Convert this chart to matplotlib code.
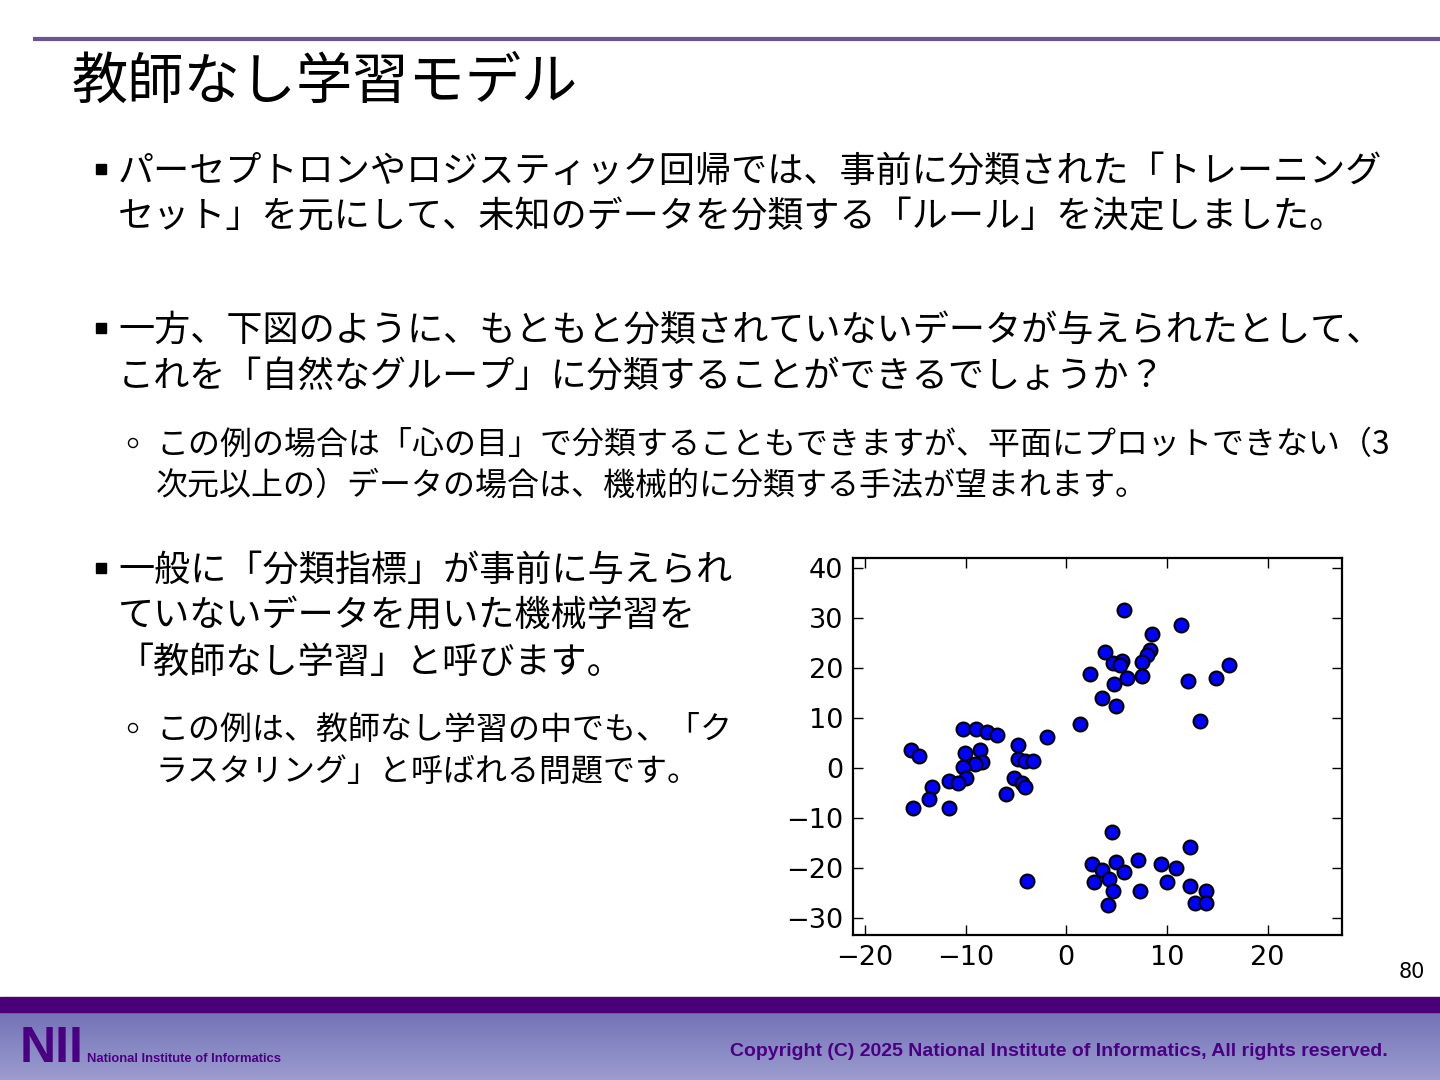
import numpy as np
import matplotlib
matplotlib.use("Agg")
import matplotlib.pyplot as plt
from matplotlib.patches import Rectangle, Circle
from matplotlib.colors import LinearSegmentedColormap

# scatter data (three loose groups)
x_upper = [5.7, 11.4, 8.5, 8.3, 8.0, 7.5, 3.8, 4.6, 5.5, 5.3, 2.4, 6.0, 7.5, 4.7, 3.5, 4.9,
           1.4, -1.9, 12.1, 14.9, 16.2, 13.3]
y_upper = [31.7, 28.7, 26.9, 23.7, 22.7, 21.3, 23.3, 21.0, 21.5, 20.6, 18.9, 18.1, 18.5, 16.8,
           14.0, 12.4, 8.8, 6.3, 17.5, 18.1, 20.6, 9.5]
x_left = [-10.3, -9.0, -7.9, -6.9, -15.4, -14.6, -10.1, -8.6, -8.4, -9.1, -10.3, -4.8, -4.8,
          -4.1, -3.3, -10.0, -11.7, -10.8, -13.3, -13.6, -15.2, -11.7, -5.2, -4.4, -4.1, -6.0]
y_left = [7.8, 7.8, 7.3, 6.7, 3.7, 2.5, 3.0, 3.7, 1.3, 0.8, 0.3, 4.7, 1.8, 1.5, 1.5, -2.0,
          -2.5, -3.0, -3.7, -6.1, -7.9, -7.9, -1.9, -2.9, -3.8, -5.1]
x_lower = [-3.9, 4.5, 12.3, 2.6, 3.5, 4.9, 5.7, 7.1, 9.4, 10.9, 2.8, 4.2, 4.6, 7.3, 10.0,
           12.3, 13.9, 4.1, 12.8, 13.9]
y_lower = [-22.5, -12.7, -15.8, -19.2, -20.3, -18.8, -20.7, -18.3, -19.2, -20.0, -22.7, -22.1,
           -24.5, -24.5, -22.7, -23.5, -24.5, -27.3, -27.0, -27.0]
xticks = [-20, -10, 0, 10, 20]
yticks = [-30, -20, -10, 0, 10, 20, 30, 40]

title = "教師なし学習モデル"
bullets = [
    (["パーセプトロンやロジスティック回帰では、事前に分類された「トレーニング",
      "セット」を元にして、未知のデータを分類する「ルール」を決定しました。"], [168, 213]),
    (["一方、下図のように、もともと分類されていないデータが与えられたとして、",
      "これを「自然なグループ」に分類することができるでしょうか？"], [327, 373]),
    (["一般に「分類指標」が事前に与えられ",
      "ていないデータを用いた機械学習を",
      "「教師なし学習」と呼びます。"], [567, 612, 659]),
]
subs = [
    (["この例の場合は「心の目」で分類することもできますが、平面にプロットできない（3",
      "次元以上の）データの場合は、機械的に分類する手法が望まれます。"], [441, 482]),
    (["この例は、教師なし学習の中でも、「ク",
      "ラスタリング」と呼ばれる問題です。"], [726, 768]),
]
copyright_text = "Copyright (C) 2025 National Institute of Informatics, All rights reserved."

jp = ["Noto Sans CJK JP", "DejaVu Sans"]

fig = plt.figure(figsize=(14.4, 10.8), dpi=100, facecolor="white")

# slide decoration in pixel coordinates
bg = fig.add_axes([0, 0, 1, 1])
bg.axis("off")
grad = np.linspace(0, 1, 100).reshape(-1, 1)
cmap = LinearSegmentedColormap.from_list("foot", ["#7272b6", "#9c9cd0"])
bg.imshow(grad, extent=[0, 1440, 1080, 1011], cmap=cmap, aspect="auto")
bg.add_patch(Rectangle((0, 997), 1440, 15, color="#4b0078"))
bg.plot([33, 1440], [39, 39], color="#6a5496", lw=3, solid_capstyle="butt")
bg.set_xlim(0, 1440)
bg.set_ylim(1080, 0)

bg.text(72, 83, title, fontsize=40.5, family=jp, va="center", ha="left")

for lines, ys in bullets:
    bg.add_patch(Rectangle((96, ys[0] - 4), 10, 10, color="black"))
    for line, yy in zip(lines, ys):
        bg.text(118, yy + 4, line, fontsize=26, family=jp, va="center", ha="left")

for lines, ys in subs:
    bg.add_patch(Circle((133, ys[0] + 2), 4.5, fill=False, ec="black", lw=1))
    for line, yy in zip(lines, ys):
        bg.text(156, yy + 4, line, fontsize=23, family=jp, va="center", ha="left")

bg.text(1412, 972, "80", fontsize=15, va="center", ha="center")
bg.text(1388, 1051, copyright_text, fontsize=14, fontweight="bold",
        family="Liberation Sans", color="#4b0082", va="center", ha="right")
bg.text(20, 1049, "NII", fontsize=36, fontweight="bold", family="Liberation Sans",
        color="#4b0082", va="center", ha="left")
bg.text(87, 1059, "National Institute of Informatics", fontsize=9.4, fontweight="bold",
        family="Liberation Sans", color="#4b0082", va="center", ha="left")

# the scatter plot
ax = fig.add_axes([853 / 1440, 1 - 935 / 1080, (1342 - 853) / 1440, (935 - 558) / 1080])
for xs, ys in [(x_left, y_left), (x_upper, y_upper), (x_lower, y_lower)]:
    ax.scatter(xs, ys, s=100, c="#0000ff", edgecolors="black", linewidths=1.5, zorder=3)
ax.set_xlim(-21.2, 27.4)
ax.set_ylim(-33.3, 42.0)
ax.set_xticks(xticks)
ax.set_yticks(yticks)
ax.tick_params(direction="in", length=7, width=1, top=True, right=True, labelsize=19.5, pad=7)
for sp in ax.spines.values():
    sp.set_linewidth(1.6)

fig.savefig("out.png", dpi=100)
